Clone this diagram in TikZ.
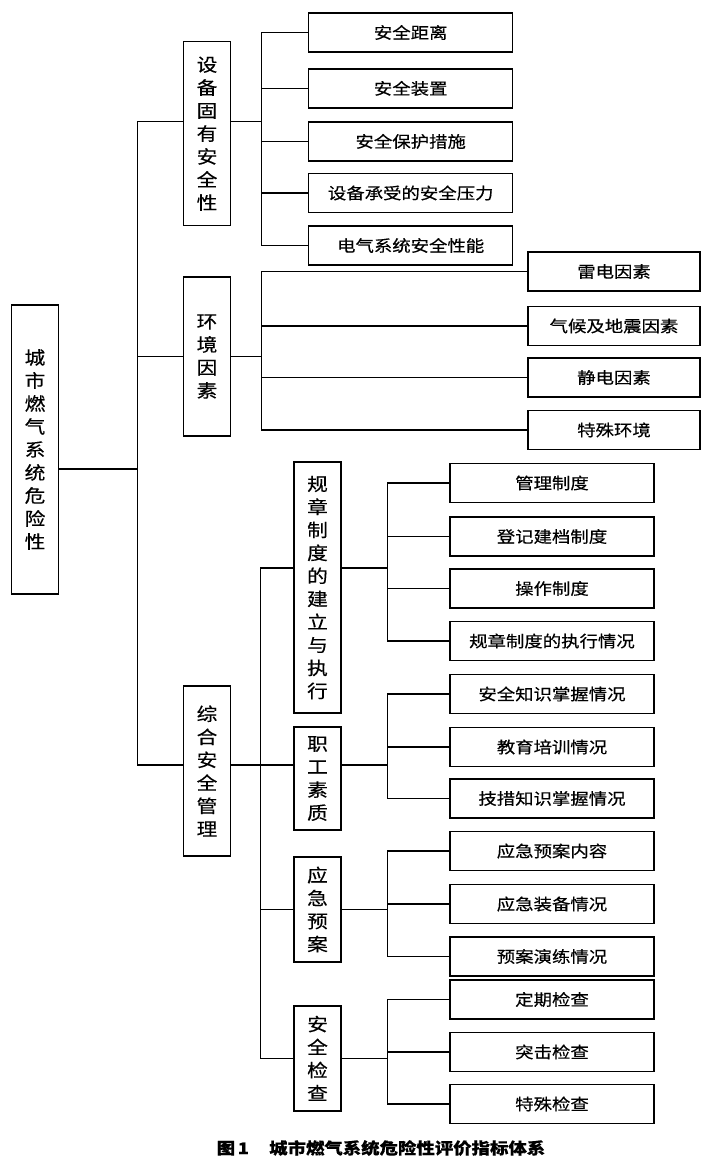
\documentclass[tikz,border=0pt]{standalone}
\usepackage{fontspec}
\newfontfamily\cjk[FakeStretch=1.15,FakeBold=0.4]{Noto Sans CJK SC}
\tikzset{
  leaf/.style={draw, line width=1.4pt, minimum width=204pt, minimum height=39pt,
    inner sep=0pt, font=\cjk\fontsize{16}{16}\selectfont},
  envleaf/.style={leaf, minimum width=172pt},
  column/.style={draw, line width=1.4pt, minimum width=47pt, inner sep=0pt,
    align=center, font=\cjk\fontsize{18}{23}\selectfont},
  link/.style={line width=1.4pt},
}
\begin{document}
\begin{tikzpicture}[x=1pt,y=-1pt]
  \useasboundingbox (0,0) rectangle (711,1164);
  % root and first level
  \node[column, minimum height=289pt] (city) at (35,449.5) {城\\市\\燃\\气\\系\\统\\危\\险\\性};
  \node[column, minimum height=184pt] (device) at (207,133.7) {设\\备\\固\\有\\安\\全\\性};
  \node[column, minimum height=159pt] (envir) at (207,356.5) {环\\境\\因\\素};
  \node[column, minimum height=170pt] (manage) at (207,771) {综\\合\\安\\全\\管\\理};
  % second level
  \node[column, minimum height=251pt] (rules) at (317.5,587.5) {规\\章\\制\\度\\的\\建\\立\\与\\执\\行};
  \node[column, minimum height=103pt] (staff) at (317.5,778.5) {职\\工\\素\\质};
  \node[column, minimum height=105pt] (plan) at (317.5,909.5) {应\\急\\预\\案};
  \node[column, minimum height=105pt] (check) at (317.5,1058.3) {安\\全\\检\\查};
  % leaves
  \node[leaf] (d1) at (410.7,32.5) {安全距离};
  \node[leaf] (d2) at (410.7,88.4) {安全装置};
  \node[leaf] (d3) at (410.7,141.4) {安全保护措施};
  \node[leaf] (d4) at (410.7,193) {设备承受的安全压力};
  \node[leaf] (d5) at (410.7,245.5) {电气系统安全性能};
  \node[envleaf] (e1) at (614,271.5) {雷电因素};
  \node[envleaf] (e2) at (614,326) {气候及地震因素};
  \node[envleaf] (e3) at (614,377.5) {静电因素};
  \node[envleaf] (e4) at (614,430) {特殊环境};
  \node[leaf] (r1) at (552,483) {管理制度};
  \node[leaf] (r2) at (552,536.5) {登记建档制度};
  \node[leaf] (r3) at (552,588.5) {操作制度};
  \node[leaf] (r4) at (552,641) {规章制度的执行情况};
  \node[leaf] (s1) at (552,694) {安全知识掌握情况};
  \node[leaf] (s2) at (552,747) {教育培训情况};
  \node[leaf] (s3) at (552,798.5) {技措知识掌握情况};
  \node[leaf] (p1) at (552,851) {应急预案内容};
  \node[leaf] (p2) at (552,904) {应急装备情况};
  \node[leaf] (p3) at (552,956.5) {预案演练情况};
  \node[leaf] (c1) at (552,999.5) {定期检查};
  \node[leaf] (c2) at (552,1052) {突击检查};
  \node[leaf] (c3) at (552,1104) {特殊检查};
  % caption
  \node[font=\cjk\bfseries\fontsize{16}{16}\selectfont] (caption) at (381,1148) {图\,1\quad\ 城市燃气系统危险性评价指标体系};
  % connectors
  \draw[link] ([yshift=-19.5pt]city.east) -- ++(78.5pt,0) coordinate (b0);
  \draw[link] ([yshift=12pt]device.west) -| (b0);
  \draw[link] (envir.west) -| (b0);
  \draw[link] ([yshift=6pt]manage.west) -| (b0);
  \draw[link] ([yshift=12pt]device.east) -- ++(30.5pt,0) coordinate (b1);
  \foreach \n in {d1,d2,d3,d4,d5} \draw[link] (b1) |- (\n.west);
  \draw[link] (envir.east) -- ++(30.5pt,0) coordinate (b2);
  \foreach \n in {e1,e2,e3,e4} \draw[link] (b2) |- (\n.west);
  \draw[link] ([yshift=6pt]manage.east) -- ++(29.5pt,0) coordinate (b3);
  \draw[link] ([yshift=19.5pt]rules.west) -| (b3);
  \draw[link] ([yshift=13.5pt]staff.west) -- (b3);
  \draw[link] (plan.west) -| (b3);
  \draw[link] (check.west) -| (b3);
  \draw[link] ([yshift=19.5pt]rules.east) -- ++(46pt,0) coordinate (b4);
  \foreach \n in {r1,r2,r3,r4} \draw[link] (b4) |- (\n.west);
  \draw[link] ([yshift=13.5pt]staff.east) -- ++(46pt,0) coordinate (b5);
  \foreach \n in {s1,s2,s3} \draw[link] (b5) |- (\n.west);
  \draw[link] (plan.east) -- ++(46pt,0) coordinate (b6);
  \foreach \n in {p1,p2,p3} \draw[link] (b6) |- (\n.west);
  \draw[link] (check.east) -- ++(46pt,0) coordinate (b7);
  \foreach \n in {c1,c2,c3} \draw[link] (b7) |- (\n.west);
\end{tikzpicture}
\end{document}
